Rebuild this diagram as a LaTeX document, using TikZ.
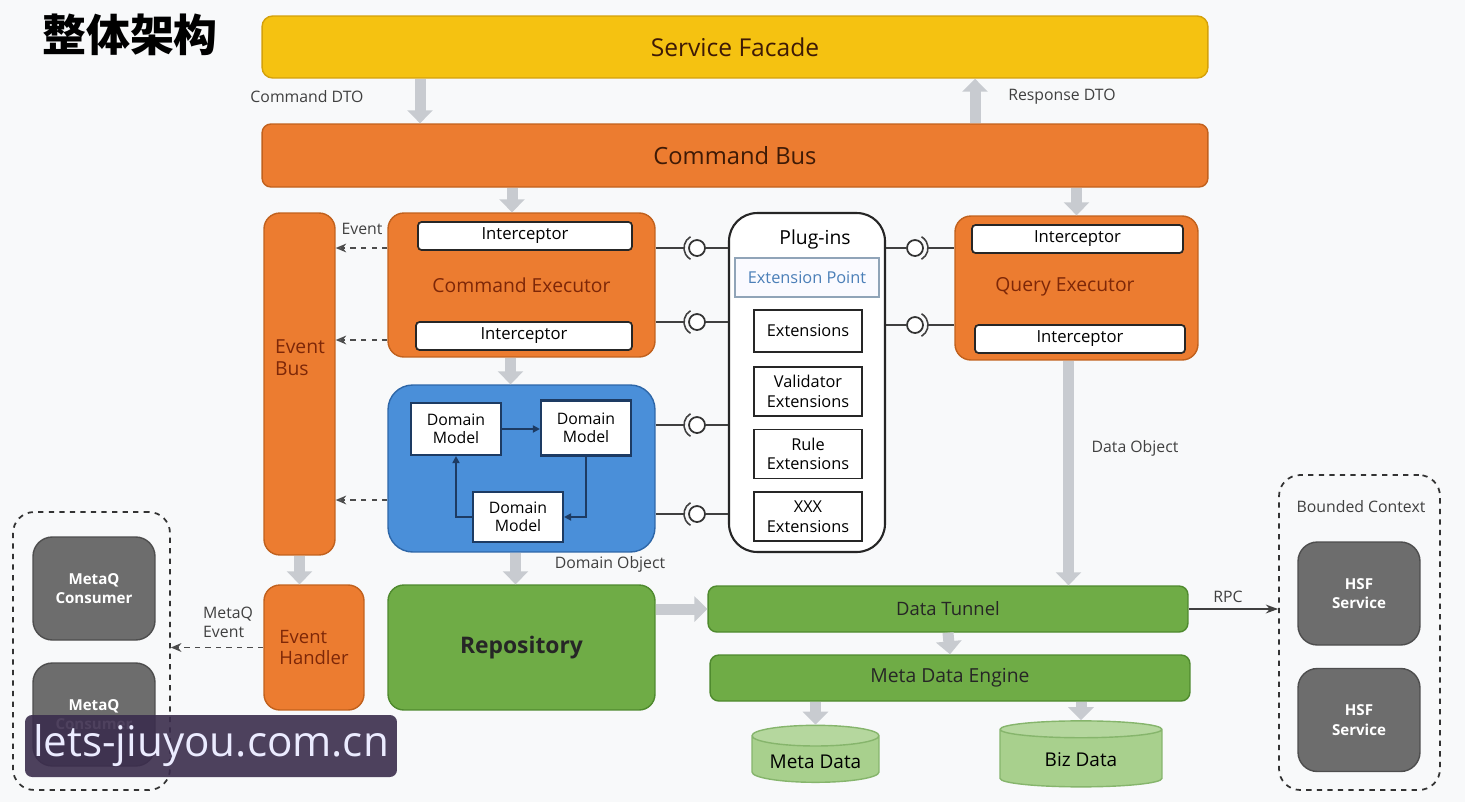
\documentclass[tikz,border=0pt]{standalone}
\usepackage{fontspec}
\setmainfont{Open Sans}
\newfontfamily\cjk{Noto Sans CJK SC}
\usetikzlibrary{shapes.geometric,arrows.meta,positioning,calc}

\definecolor{facadeY}{HTML}{F5C211}
\definecolor{facadeB}{HTML}{D4A10A}
\definecolor{orangeF}{HTML}{EC7C30}
\definecolor{orangeB}{HTML}{C1611D}
\definecolor{greenF}{HTML}{6FAC46}
\definecolor{greenB}{HTML}{4F8A2E}
\definecolor{blueF}{HTML}{4A8FD9}
\definecolor{blueB}{HTML}{2E67A8}
\definecolor{cylF}{HTML}{A8D08D}
\definecolor{cylB}{HTML}{86B56C}
\definecolor{greyF}{HTML}{6D6D6D}
\definecolor{greyB}{HTML}{4E4E4E}
\definecolor{fatG}{HTML}{C8CBD0}
\definecolor{brownT}{HTML}{3E1A06}
\definecolor{redT}{HTML}{7D2708}
\definecolor{navyB}{HTML}{1D3B63}
\definecolor{extT}{HTML}{4B7FB8}
\definecolor{extB}{HTML}{90A4B8}
\definecolor{bgC}{HTML}{F8F9FA}
\definecolor{wmark}{HTML}{3B2D4D}

\begin{document}
\begin{tikzpicture}[
  x=0.02cm, y=0.02cm,
  bar/.style={
    rectangle, rounded corners=5pt, draw=orangeB, fill=orangeF,
    line width=0.8pt, text=brownT},
  exec/.style={
    rectangle, rounded corners=9pt, draw=orangeB, fill=orangeF,
    line width=0.8pt, text=redT, font=\fontsize{11}{12.5}\selectfont},
  exectxt/.style={text=redT, font=\fontsize{11}{12.5}\selectfont},
  icpt/.style={
    rectangle, rounded corners=2pt, draw=black!85, fill=white,
    line width=1pt, minimum height=0.56cm,
    font=\fontsize{9.5}{11}\selectfont},
  dmodel/.style={
    rectangle, draw=navyB, fill=white, line width=1.2pt,
    minimum width=1.8cm, align=center, font=\fontsize{9}{10.5}\selectfont},
  extbox/.style={
    rectangle, draw=black!85, fill=white, line width=1pt,
    minimum width=2.16cm, align=center, font=\fontsize{9.3}{11}\selectfont},
  gbar/.style={
    rectangle, rounded corners=5pt, draw=greenB, fill=greenF,
    line width=0.8pt, text=black!85},
  svc/.style={
    rectangle, rounded corners=11pt, draw=greyB, fill=greyF,
    line width=0.8pt, minimum width=2.44cm, minimum height=2.06cm,
    text=white, align=center, font=\bfseries\fontsize{8.6}{11}\selectfont},
  grp/.style={
    rectangle, rounded corners=12pt, draw=black!80, dashed, line width=1pt},
  db/.style={
    cylinder, shape border rotate=90, aspect=0.2, draw=cylB,
    line width=0.8pt, cylinder uses custom fill, cylinder body fill=cylF,
    cylinder end fill=cylF!85!white, font=\fontsize{10.8}{12}\selectfont},
  lbl/.style={font=\fontsize{9}{11}\selectfont, text=black!75, align=left},
  fat/.style={draw=fatG, line width=0.22cm,
    -{Triangle[length=0.26cm, width=0.5cm]}},
  evt/.style={draw=black!70, dashed, line width=0.9pt,
    -{Stealth[length=6pt, width=5pt, open]}},
  link/.style={draw=navyB, line width=1pt,
    -{Triangle[length=4pt, width=4pt]}},
  ball/.style={circle, draw=black!80, line width=1pt,
    minimum size=0.32cm, fill=white, inner sep=0pt},
  wire/.style={draw=black!75, line width=0.9pt},
]
  \useasboundingbox (0,0) rectangle (1465,-802);
  \fill[bgC] (0,0) rectangle (1465,-802);

  \node[font=\cjk\bfseries\fontsize{25}{30}\selectfont, anchor=west]
      (title) at (36,-35) {整体架构};

  \node[rectangle, rounded corners=6pt, draw=facadeB, fill=facadeY,
        line width=0.8pt, minimum width=18.92cm, minimum height=1.24cm,
        text=brownT, font=\fontsize{14}{16}\selectfont]
      (facade) at (735,-47) {Service Facade};
  \node[bar, minimum width=18.92cm, minimum height=1.26cm,
        font=\fontsize{13.5}{16}\selectfont]
      (cmdbus) at (735,-155.5) {Command Bus};

  \node[exec, minimum width=1.42cm, minimum height=6.84cm]
      (evbus) at (299.5,-384) {};
  \node[exectxt, align=left] (evbustxt) at (300,-358) {Event\\Bus};

  \node[exec, minimum width=5.34cm, minimum height=2.88cm]
      (cmdexec) at (521.5,-285) {Command Executor};
  \node[icpt, minimum width=4.28cm] (ci1) at (525,-236) {Interceptor};
  \node[icpt, minimum width=4.32cm] (ci2) at (524,-336) {Interceptor};

  \node[rectangle, rounded corners=14pt, draw=blueB, fill=blueF,
        line width=0.8pt, minimum width=5.34cm, minimum height=3.34cm]
      (domain) at (521.5,-468.5) {};
  \node[dmodel, minimum height=1.04cm] (dm1) at (456,-429) {Domain\\Model};
  \node[dmodel, minimum height=1.1cm]  (dm2) at (586,-428) {Domain\\Model};
  \node[dmodel, minimum height=1.0cm]  (dm3) at (518,-517) {Domain\\Model};

  \node[rectangle, rounded corners=16pt, draw=black!85, fill=white,
        line width=1.2pt, minimum width=3.12cm, minimum height=6.78cm]
      (plugins) at (807,-382.5) {};
  \node[font=\fontsize{11}{13}\selectfont] (pgtitle) at (815,-239) {Plug-ins};
  \node[rectangle, draw=extB, fill=blue!2, line width=1pt,
        minimum width=2.88cm, minimum height=0.78cm, text=extT,
        font=\fontsize{9.3}{11}\selectfont]
      (extpt) at (807,-277.5) {Extension Point};
  \node[extbox, minimum height=0.84cm] (ext1) at (808,-331) {Extensions};
  \node[extbox, minimum height=0.98cm, below=0.26cm of ext1]
      (ext2) {Validator\\Extensions};
  \node[extbox, minimum height=0.98cm, below=0.24cm of ext2]
      (ext3) {Rule\\Extensions};
  \node[extbox, minimum height=0.98cm, below=0.24cm of ext3]
      (ext4) {XXX\\Extensions};

  \node[exec, minimum width=4.86cm, minimum height=2.88cm]
      (qryexec) at (1076.5,-288) {};
  \node[exectxt] (qrytxt) at (1065,-287) {Query Executor};
  \node[icpt, minimum width=4.22cm] (qi1) at (1077.5,-239) {Interceptor};
  \node[icpt, minimum width=4.2cm]  (qi2) at (1080,-339) {Interceptor};

  \node[gbar, rounded corners=9pt, minimum width=5.34cm, minimum height=2.5cm,
        font=\bfseries\fontsize{13}{15}\selectfont]
      (repo) at (521.5,-647.5) {Repository};
  \node[exec, minimum width=2.0cm, minimum height=2.5cm, align=left,
        font=\fontsize{10.5}{12.5}\selectfont]
      (evh) at (314,-647.5) {Event\\Handler};

  \node[gbar, minimum width=9.6cm, minimum height=0.92cm,
        font=\fontsize{10.5}{12}\selectfont]
      (tunnel) at (948,-609) {Data Tunnel};
  \node[gbar, minimum width=9.6cm, minimum height=0.92cm,
        font=\fontsize{11}{13}\selectfont]
      (mde) at (950,-678) {Meta Data Engine};
  \node[db, minimum width=2.54cm, minimum height=1.14cm]
      (metadb) at (815.5,-761.5) {Meta Data};
  \node[db, minimum width=3.24cm, minimum height=1.32cm]
      (bizdb) at (1081,-760) {Biz Data};

  \node[grp, minimum width=3.22cm, minimum height=6.3cm]
      (bctx) at (1359.5,-632.5) {};
  \node[lbl] (bctxtxt) at (1361,-507) {Bounded Context};
  \node[svc] (hsf1) at (1359,-593.5) {HSF\\Service};
  \node[svc] (hsf2) at (1359,-720) {HSF\\Service};

  \node[grp, minimum width=3.14cm, minimum height=5.56cm]
      (mqgrp) at (91.5,-651) {};
  \node[svc] (mq1) at (94,-588.5) {MetaQ\\Consumer};
  \node[svc] (mq2) at (94,-714.5) {MetaQ\\Consumer};

  \node[lbl] (cdto)   at (307,-97)  {Command DTO};
  \node[lbl] (rdto)   at (1062,-97) {Response DTO};
  \node[lbl] (evlbl)  at (362,-229) {Event};
  \node[lbl] (dolbl)  at (1135,-448) {Data Object};
  \node[lbl] (domlbl) at (610,-564) {Domain Object};
  \node[lbl, anchor=west] (mqlbl) at (197,-622) {MetaQ\\Event};
  \node[lbl] (rpclbl) at (1228,-597) {RPC};

  \draw[fat] ($(facade.south)+(-315,0)$) -- ($(cmdbus.north)+(-315,0)$);
  \draw[fat] ($(cmdbus.north)+(240,0)$) -- ($(facade.south)+(240,0)$);
  \draw[fat] ($(cmdbus.south)+(-223,0)$) -- ($(cmdexec.north)+(-9.5,0)$);
  \draw[fat] (qryexec.north |- cmdbus.south) -- (qryexec.north);
  \draw[fat] ($(cmdexec.south)+(-11,0)$) -- ($(domain.north)+(-11,0)$);
  \draw[fat] ($(domain.south)+(-6,0)$) -- ($(repo.north)+(-6,0)$);
  \draw[fat] (evbus.south) -- (evbus.south |- evh.north);
  \draw[fat] ($(qryexec.south)+(-8,0)$) -- ($(qryexec.south |- tunnel.north)+(-8,0)$);
  \draw[fat] (repo.east |- tunnel.west) -- (tunnel.west);
  \draw[fat] (tunnel.south) -- (mde.north);
  \draw[fat] (mde.south -| metadb.north) -- (metadb.north);
  \draw[fat] (mde.south -| bizdb.north) -- (bizdb.north);

  \draw[evt] ($(cmdexec.west)+(0,37)$) -- ($(evbus.east |- cmdexec.west)+(0,37)$);
  \draw[evt] ($(cmdexec.west)+(0,-55)$) -- ($(evbus.east |- cmdexec.west)+(0,-55)$);
  \draw[evt] ($(domain.west)+(0,-31.5)$) -- ($(evbus.east |- domain.west)+(0,-31.5)$);
  \draw[evt] (evh.west) -- (mqgrp.east |- evh.west);

  \draw[link] (dm1.east) -- (dm2.west |- dm1.east);
  \draw[link] (dm2.south) |- (dm3.east);
  \draw[link] (dm3.west) -| (dm1.south);

  \node[ball] (lb1) at (697,-248) {};
  \node[ball] (lb2) at (697,-322) {};
  \node[ball] (lb3) at (697,-425) {};
  \node[ball] (lb4) at (697,-514) {};
  \node[ball] (rb1) at (915,-248) {};
  \node[ball] (rb2) at (915,-325) {};

  \draw[wire] (cmdexec.east |- lb1) -- ++(28,0);
  \draw[wire] ($(lb1)+(120:13)$) arc (120:240:13);
  \draw[wire] (lb1.east) -- (plugins.west |- lb1);
  \draw[wire] (cmdexec.east |- lb2) -- ++(28,0);
  \draw[wire] ($(lb2)+(120:13)$) arc (120:240:13);
  \draw[wire] (lb2.east) -- (plugins.west |- lb2);
  \draw[wire] (domain.east |- lb3) -- ++(28,0);
  \draw[wire] ($(lb3)+(120:13)$) arc (120:240:13);
  \draw[wire] (lb3.east) -- (plugins.west |- lb3);
  \draw[wire] (domain.east |- lb4) -- ++(28,0);
  \draw[wire] ($(lb4)+(120:13)$) arc (120:240:13);
  \draw[wire] (lb4.east) -- (plugins.west |- lb4);
  \draw[wire] (plugins.east |- rb1) -- (rb1.west);
  \draw[wire] ($(rb1)+(-60:13)$) arc (-60:60:13);
  \draw[wire] ($(rb1)+(13,0)$) -- (qryexec.west |- rb1);
  \draw[wire] (plugins.east |- rb2) -- (rb2.west);
  \draw[wire] ($(rb2)+(-60:13)$) arc (-60:60:13);
  \draw[wire] ($(rb2)+(13,0)$) -- (qryexec.west |- rb2);

  \draw[draw=black!75, line width=1pt, -{Stealth[length=7pt, width=5pt]}]
      (tunnel.east) -- (bctx.west |- tunnel.east);

  \node[rectangle, rounded corners=4pt, fill=wmark, fill opacity=0.9,
        text opacity=1, text=white!92!blue, minimum width=7.44cm,
        minimum height=1.24cm, font=\fontsize{24}{28}\selectfont]
      (wm) at (211,-746) {lets-jiuyou.com.cn};
\end{tikzpicture}
\end{document}
